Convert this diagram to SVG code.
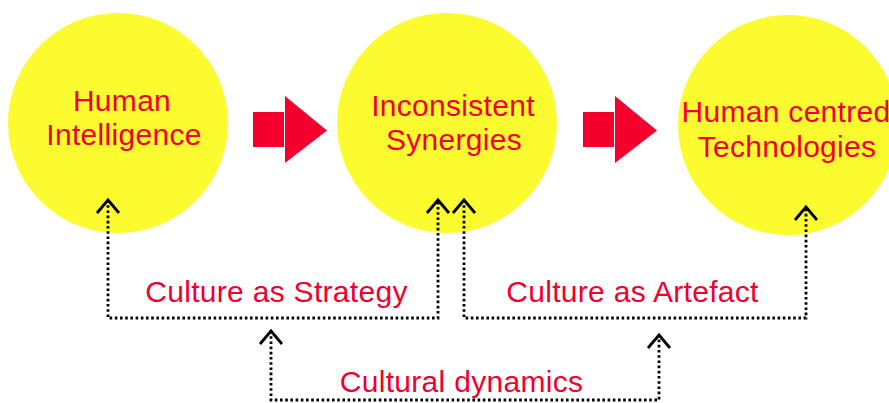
<svg xmlns="http://www.w3.org/2000/svg" width="889" height="403" viewBox="0 0 889 403">
<style>
.c{fill:#fbfb2f}
.t{font-family:"Liberation Sans",Arial,sans-serif;font-size:30px;letter-spacing:0.3px;fill:#f0002e;text-anchor:middle}
.a{fill:#f5002d}
.d{fill:none;stroke:#000;stroke-width:2.8;stroke-dasharray:2.6 2.6}
.h{fill:none;stroke:#000;stroke-width:2.8}
</style>
<defs>
<marker id="chev" markerUnits="userSpaceOnUse" markerWidth="30" markerHeight="30" viewBox="-15 -15 30 30" refX="0" refY="0" orient="auto-start-reverse" overflow="visible">
<path class="h" d="M-13,-11 L0,0 L-13,11"/>
</marker>
</defs>
<rect width="889" height="403" fill="#fff"/>
<g id="n1"><circle class="c" cx="118" cy="123" r="110"/><text class="t" x="122" y="111">Human</text><text class="t" x="124" y="145">Intelligence</text></g>
<g id="n2"><circle class="c" cx="447" cy="123" r="110"/><text class="t" x="453" y="116">Inconsistent</text><text class="t" x="454" y="150">Synergies</text></g>
<g id="n3"><circle class="c" cx="788" cy="125" r="110"/><text class="t" x="786" y="122">Human centred</text><text class="t" x="787" y="157">Technologies</text></g>
<g id="arrows">
<rect class="a" x="253" y="112" width="31" height="35"/><polygon class="a" points="285,96 327,130.5 285,163"/>
<rect class="a" x="583" y="112" width="31" height="35"/><polygon class="a" points="615,96 657,130.5 615,163"/>
</g>
<g id="connectors">
<path class="d" d="M108,200 V318 H438 V200" marker-start="url(#chev)" marker-end="url(#chev)"/>
<path class="d" d="M464,200 V318 H806 V207" marker-start="url(#chev)" marker-end="url(#chev)"/>
<path class="d" d="M271,331 V400 H659 V335" marker-start="url(#chev)" marker-end="url(#chev)"/>
</g>
<g id="labels">
<text class="t" x="276.5" y="302">Culture as Strategy</text>
<text class="t" x="632.5" y="302">Culture as Artefact</text>
<text class="t" x="461.5" y="392">Cultural dynamics</text>
</g>
</svg>
